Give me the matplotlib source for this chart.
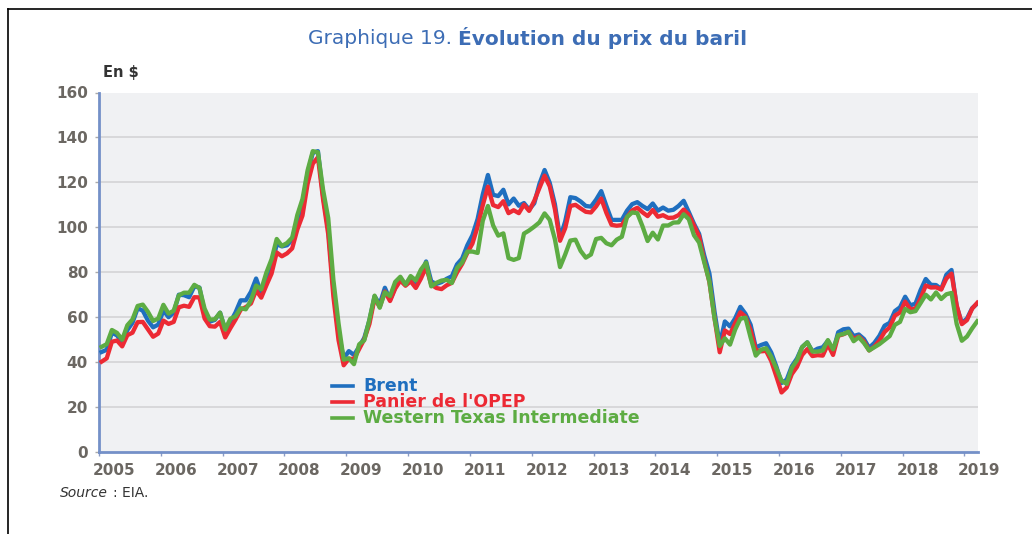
import matplotlib
matplotlib.use("Agg")
import matplotlib.pyplot as plt
import matplotlib.transforms as mtrans
from matplotlib.lines import Line2D
import numpy as np


debut_annee = 2005
annees = list(range(2005, 2020))

# prix mensuels (janvier 2005 -> mars 2019), en $
brent = [
    44.5, 45.5, 53.1, 51.9, 48.7, 54.3, 57.5, 64.0, 62.9, 58.5, 55.5, 56.7,
    63.0, 60.0, 62.0, 70.0, 69.8, 68.9, 73.7, 73.2, 62.0, 58.0, 58.8, 62.0,
    54.5, 57.8, 62.1, 67.5, 67.5, 71.3, 77.2, 70.8, 77.1, 82.3, 92.5, 91.5,
    92.0, 94.5, 103.3, 110.4, 123.9, 133.1, 133.9, 113.9, 99.1, 72.8, 53.2, 41.6,
    44.9, 43.2, 46.8, 50.8, 58.6, 69.3, 65.8, 73.1, 67.7, 73.2, 77.0, 74.7,
    76.2, 73.8, 78.8, 84.8, 75.9, 74.8, 75.6, 77.1, 78.2, 83.5, 86.1, 92.0,
    96.5, 103.7, 114.6, 123.3, 114.5, 113.9, 116.7, 110.2, 112.8, 109.6, 110.8, 107.9,
    110.7, 119.3, 125.5, 119.8, 110.3, 95.2, 102.6, 113.4, 113.0, 111.5, 109.5, 109.2,
    112.3, 116.1, 109.5, 103.3, 103.3, 103.3, 107.4, 110.3, 111.2, 109.5, 108.1, 110.6,
    107.4, 108.8, 107.4, 107.8, 109.5, 111.8, 106.8, 101.6, 97.1, 87.4, 79.4, 62.3,
    47.8, 58.1, 55.9, 59.5, 64.6, 61.5, 56.6, 46.5, 47.6, 48.4, 44.3, 38.0,
    30.7, 32.2, 38.2, 41.6, 46.7, 48.8, 44.7, 46.0, 46.6, 49.5, 44.7, 53.3,
    54.6, 54.9, 51.6, 52.3, 50.3, 46.4, 48.5, 51.7, 56.2, 57.5, 62.7, 64.4,
    69.1, 65.3, 66.0, 72.1, 77.0, 74.4, 74.3, 72.5, 78.9, 81.0, 64.8, 57.4,
    59.4, 64.0, 66.1,
]

opep = [
    40.2, 41.7, 49.1, 49.6, 47.0, 52.0, 53.1, 57.8, 57.9, 54.6, 51.3, 52.7,
    58.5, 57.0, 57.9, 64.4, 65.1, 64.6, 68.9, 68.8, 59.4, 56.0, 55.8, 57.9,
    51.0, 55.1, 58.9, 63.3, 64.5, 66.1, 71.9, 68.7, 74.2, 79.4, 88.8, 87.1,
    88.4, 90.6, 99.0, 105.2, 119.4, 128.3, 131.2, 112.4, 96.9, 69.2, 49.8, 38.6,
    41.5, 41.4, 45.8, 50.2, 57.0, 68.4, 64.6, 71.4, 67.2, 72.7, 76.3, 74.0,
    76.0, 73.0, 77.2, 82.3, 74.5, 73.0, 72.5, 74.2, 75.3, 79.9, 83.7, 88.6,
    92.8, 100.3, 109.8, 118.1, 109.9, 109.0, 111.6, 106.3, 107.6, 106.3, 110.1, 107.3,
    111.8, 117.5, 123.0, 118.2, 108.1, 94.0, 99.6, 109.5, 110.0, 108.4, 106.9, 106.6,
    109.3, 112.8, 106.4, 101.1, 100.7, 101.0, 104.5, 107.5, 108.7, 106.7, 105.0, 107.7,
    104.7, 105.4, 104.2, 104.3, 105.4, 107.9, 105.6, 100.8, 96.0, 85.1, 75.6, 59.5,
    44.4, 54.1, 52.5, 57.3, 62.2, 60.2, 54.2, 45.5, 44.8, 45.0, 40.5, 33.6,
    26.5, 28.7, 34.7, 37.9, 43.2, 45.8, 42.7, 43.1, 42.9, 47.9, 43.2, 51.7,
    52.4, 53.4, 50.3, 51.4, 49.2, 45.2, 46.9, 49.6, 53.4, 55.5, 60.7, 62.1,
    66.9, 63.5, 63.8, 68.4, 74.1, 73.2, 73.3, 72.3, 77.2, 79.4, 65.3, 56.9,
    58.7, 63.8, 66.4,
]

wti = [
    46.8, 48.0, 54.3, 53.0, 50.0, 56.4, 59.0, 65.0, 65.6, 62.4, 58.3, 59.4,
    65.5, 61.6, 62.9, 69.7, 70.9, 70.9, 74.4, 73.0, 63.8, 58.9, 59.1, 62.0,
    54.5, 59.3, 60.4, 64.0, 63.5, 67.5, 74.1, 72.4, 79.9, 85.8, 94.8, 91.7,
    93.0, 95.4, 105.5, 112.6, 125.4, 133.9, 133.4, 116.7, 104.1, 76.6, 57.3, 41.1,
    41.7, 39.1, 47.9, 49.7, 59.0, 69.6, 64.2, 71.1, 69.4, 75.7, 78.0, 74.5,
    78.3, 76.4, 81.2, 84.3, 73.7, 75.3, 76.3, 76.6, 75.2, 81.9, 84.3, 89.2,
    89.2, 88.6, 102.9, 109.5, 100.9, 96.3, 97.3, 86.3, 85.5, 86.3, 97.2, 98.6,
    100.3, 102.2, 106.2, 103.3, 94.7, 82.3, 87.9, 94.1, 94.5, 89.5, 86.5, 87.9,
    94.8, 95.3, 92.9, 92.0, 94.5, 95.8, 104.6, 106.6, 106.3, 100.5, 93.9, 97.6,
    94.6, 100.8, 100.8, 102.1, 102.2, 105.8, 103.6, 96.5, 93.2, 84.4, 75.8, 59.3,
    47.2, 50.6, 47.8, 54.5, 59.3, 59.8, 50.9, 42.9, 45.5, 46.2, 42.4, 37.2,
    31.7, 30.3, 37.5, 40.8, 46.7, 48.8, 44.7, 44.7, 45.2, 49.8, 45.7, 52.0,
    52.5, 53.5, 49.3, 51.1, 48.5, 45.2, 46.6, 48.0, 49.8, 51.6, 56.6, 57.9,
    63.7, 62.2, 62.7, 66.3, 70.0, 67.9, 71.0, 68.1, 70.2, 70.8, 57.0, 49.5,
    51.4, 55.0, 58.2,
]

noms = ["Brent", "Panier de l'OPEP", "Western Texas Intermediate"]
barve = ["#1f6fbf", "#ec2a34", "#5dac43"]


def px(x, y):
    """Pretvori piksle v koordinate slike."""
    return x / 1032, 1 - y / 534


def glavni():
    mois = debut_annee + (np.arange(len(brent)) + 0.5) / 12

    fig = plt.figure(figsize=(10.32, 5.34), dpi=100)
    ax = fig.add_axes([99 / 1032, 1 - 452 / 534, 879 / 1032, 359.5 / 534])
    ax.set_facecolor("#f0f1f3")

    for serie, barva in zip([brent, opep, wti], barve):
        ax.plot(mois, serie, color=barva, lw=3.1, solid_joinstyle="round", zorder=3)

    ax.set_xlim(2005.0, 2019.22)
    ax.set_ylim(0, 160)
    ax.set_yticks(range(0, 161, 20))
    ax.set_xticks(annees)
    ax.set_xticklabels([str(a) for a in annees])

    for y in range(20, 160, 20):
        ax.axhline(y, color="#d6d6d8", lw=1.3, zorder=1)

    for s in ["top", "right"]:
        ax.spines[s].set_visible(False)
    for s in ["left", "bottom"]:
        ax.spines[s].set_color("#7490c8")
        ax.spines[s].set_linewidth(2.0)

    ax.tick_params(axis="y", length=3, width=1, color="#aaaaaa", pad=5,
                   labelsize=11, labelcolor="#6b6762")
    ax.tick_params(axis="x", length=3, width=1, color="#8a9bc4", pad=5,
                   labelsize=11, labelcolor="#6b6762")
    for lab in ax.get_xticklabels() + ax.get_yticklabels():
        lab.set_fontweight("bold")
    pomik = mtrans.ScaledTranslation(15 / 100, 0, fig.dpi_scale_trans)
    for lab in ax.get_xticklabels():
        lab.set_transform(lab.get_transform() + pomik)

    # legenda
    for i, (nom, b) in enumerate(zip(noms, barve)):
        y = 386 + 16 * i
        x0, y0 = px(332, y)
        x1, _ = px(353, y)
        fig.add_artist(Line2D([x0, x1], [y0, y0], transform=fig.transFigure,
                              color=b, lw=2.6))
        fig.text(*px(363, y), nom, ha="left", va="center", fontsize=12.5,
                 fontweight="bold", color=b)

    fig.text(*px(452, 38), "Graphique 19.", ha="right", va="center",
             fontsize=14.5, color="#3d6db5")
    fig.text(*px(458, 38), "Évolution du prix du baril", ha="left",
             va="center", fontsize=14.5, fontweight="bold", color="#3d6db5")
    fig.text(*px(103, 73), "En $", ha="left", va="center",
             fontsize=10.5, fontweight="bold", color="#333333")
    fig.text(*px(60, 493), "Source", ha="left", va="center",
             fontsize=10, style="italic", color="#333333")
    fig.text(*px(113, 493), ": EIA.", ha="left", va="center",
             fontsize=10, color="#333333")

    # okvir slike
    fig.add_artist(Line2D([8 / 1032, 8 / 1032], [0, 1 - 9 / 534],
                          transform=fig.transFigure, color="black", lw=1.2))
    fig.add_artist(Line2D([8 / 1032, 1], [1 - 9 / 534, 1 - 9 / 534],
                          transform=fig.transFigure, color="black", lw=1.2))

    fig.savefig("out.png", dpi=100)
    plt.close(fig)


if __name__ == "__main__":
    glavni()
